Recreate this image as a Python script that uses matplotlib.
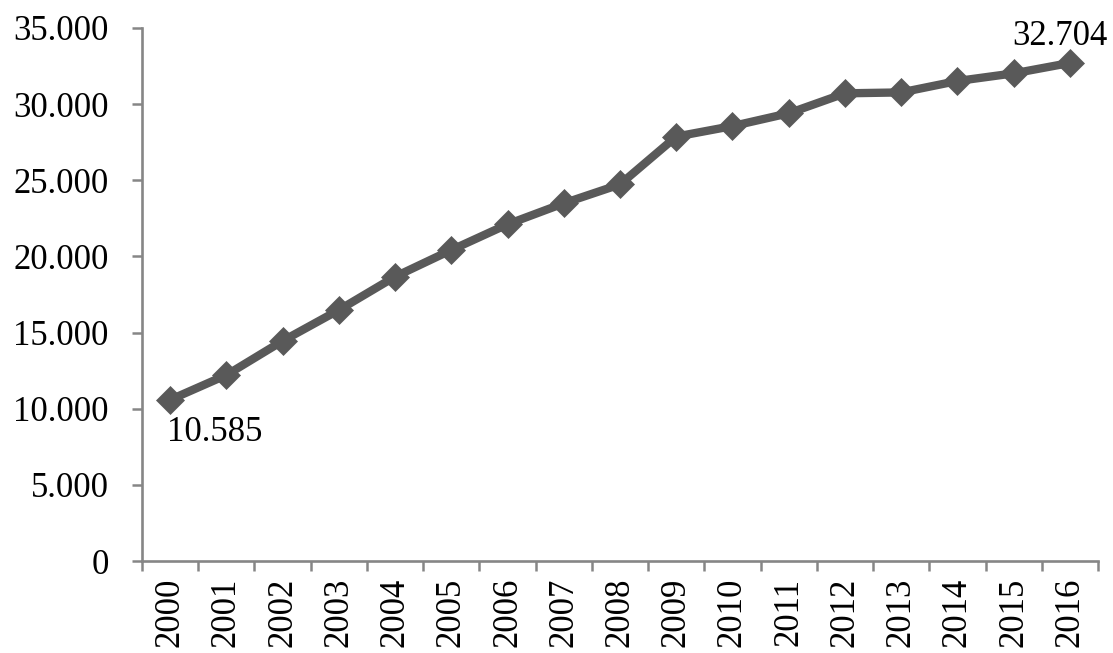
import matplotlib
matplotlib.use("Agg")
import matplotlib.pyplot as plt
from matplotlib.ticker import FuncFormatter

years = [str(y) for y in range(2000, 2017)]
values = [10585, 12210, 14450, 16480, 18670, 20420, 22110, 23490, 24730,
          27870, 28560, 29400, 30710, 30770, 31520, 32020, 32704]
y_ticks = [0, 5000, 10000, 15000, 20000, 25000, 30000, 35000]

line_color = "#595959"
axis_color = "#868686"

plt.rcParams["font.family"] = ["Liberation Serif", "DejaVu Serif"]

fig = plt.figure(figsize=(11.13, 6.53), dpi=100)
ax = fig.add_axes([142 / 1113, 1 - 561 / 653, (1098 - 142) / 1113, (561 - 28) / 653])

x = list(range(len(years)))
ax.plot(x, values, color=line_color, linewidth=6, marker="D", markersize=14,
        markeredgewidth=0.5, markeredgecolor=line_color, markerfacecolor=line_color,
        solid_joinstyle="miter", zorder=3)

ax.set_xlim(-0.5, len(years) - 0.5)
ax.set_ylim(0, 35000)

# category ticks sit between the years, labels at the centres
ax.set_xticks([i - 0.5 for i in range(len(years) + 1)])
ax.set_xticklabels([])
ax.set_xticks(x, minor=True)
ax.set_xticklabels(years, minor=True, rotation=90, fontsize=25)
ax.tick_params(axis="x", which="minor", length=0, pad=12)
ax.tick_params(axis="x", which="major", length=7.5, width=1.8, color=axis_color,
               direction="out")

ax.set_yticks(y_ticks)
ax.yaxis.set_major_formatter(FuncFormatter(lambda v, p: f"{int(v):,}".replace(",", ".")))
ax.tick_params(axis="y", labelsize=25, length=7.5, width=1.8, color=axis_color,
               direction="out", pad=16.5)

for side in ("top", "right"):
    ax.spines[side].set_visible(False)
for side in ("left", "bottom"):
    ax.spines[side].set_color(axis_color)
    ax.spines[side].set_linewidth(1.9)

fmt = lambda v: f"{v:,}".replace(",", ".")
ax.annotate(fmt(values[0]), (x[0], values[0]), xytext=(32, -30),
            textcoords="offset points", ha="center", va="baseline", fontsize=25)
ax.annotate(fmt(values[-1]), (x[-1], values[-1]), xytext=(-7, 13),
            textcoords="offset points", ha="center", va="baseline", fontsize=25)

fig.savefig("out.png", dpi=100, facecolor="white")
